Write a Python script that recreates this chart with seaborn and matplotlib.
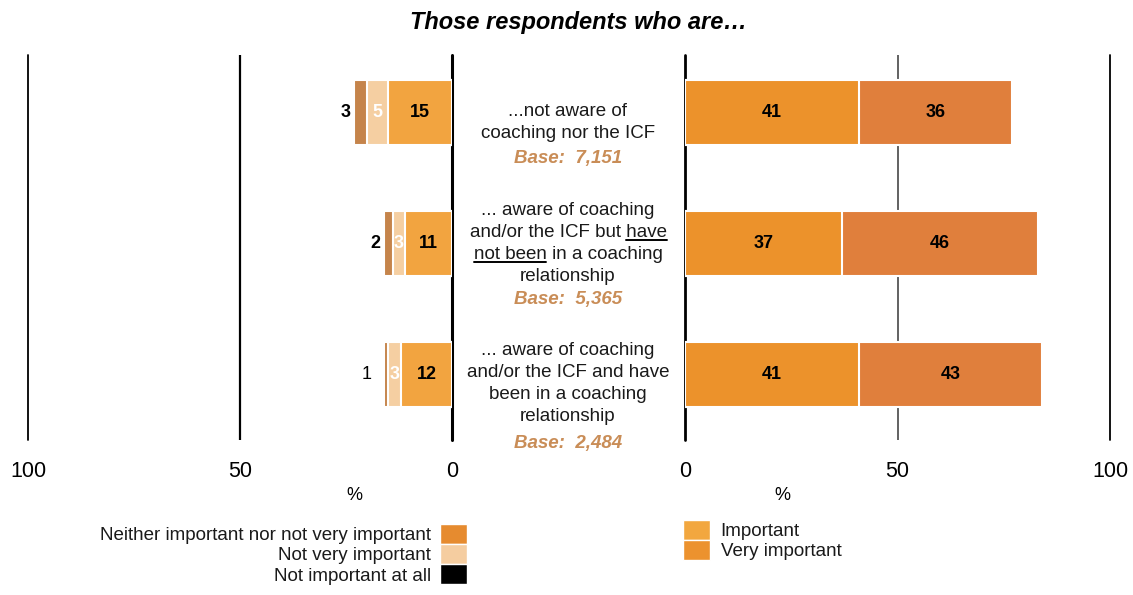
import numpy as np
import pandas as pd
import matplotlib
matplotlib.use('Agg')
import matplotlib.pyplot as plt
from matplotlib.patches import Patch
from matplotlib.lines import Line2D
import seaborn as sns

# data
groups = ['not_aware', 'aware_no_rel', 'aware_rel']
neither = [15, 11, 12]
not_very = [5, 3, 3]
not_at_all = [3, 2, 1]
important = [41, 37, 41]
very_important = [36, 46, 43]

row_lines = [
    ['...not aware of', 'coaching nor the ICF'],
    ['... aware of coaching', 'and/or the ICF but have', 'not been in a coaching', 'relationship'],
    ['... aware of coaching', 'and/or the ICF and have', 'been in a coaching', 'relationship'],
]
bases = ['Base:  7,151', 'Base:  5,365', 'Base:  2,484']
left_ticks = [100, 50, 0]
right_ticks = [0, 50, 100]

df = pd.DataFrame({'group': groups, 'neither': neither, 'not_very': not_very,
                   'not_at_all': not_at_all, 'important': important,
                   'very_important': very_important})
df['l2'] = df['neither'] + df['not_very']
df['l3'] = df['l2'] + df['not_at_all']
df['r2'] = df['important'] + df['very_important']

sns.set_style('white')
plt.rcParams['font.family'] = ['Liberation Sans', 'DejaVu Sans']
plt.rcParams['text.color'] = 'black'
plt.rcParams['xtick.color'] = 'black'

W, H = 1133, 595
fig = plt.figure(figsize=(W / 100, H / 100), dpi=100)
axL = fig.add_axes([28 / W, 155 / H, 424 / W, 385 / H])
axR = fig.add_axes([685 / W, 155 / H, 425 / W, 385 / H])

bar_kw = dict(y='group', orient='h', width=0.5, saturation=1, errorbar=None,
              edgecolor='white', linewidth=1.5, zorder=3)

# left stacked bars (drawn as cumulative overlays)
sns.barplot(data=df, x='l3', color='#C5844B', ax=axL, **bar_kw)
sns.barplot(data=df, x='l2', color='#F5CFA2', ax=axL, **bar_kw)
sns.barplot(data=df, x='neither', color='#F2A440', ax=axL, **bar_kw)

# right stacked bars
sns.barplot(data=df, x='r2', color='#E07F3C', ax=axR, **bar_kw)
sns.barplot(data=df, x='important', color='#EC922B', ax=axR, **bar_kw)

for ax in (axL, axR):
    ax.set_ylim(2.5, -0.44)
    ax.set_yticks([])
    ax.set_xlabel('')
    ax.set_ylabel('')
    sns.despine(ax=ax, left=True, bottom=True)
    ax.tick_params(axis='x', length=0, pad=15, labelsize=15.5, labelcolor='black')

axL.set_xlim(100, 0)
axL.set_xticks(left_ticks, [str(t) for t in left_ticks])
axR.set_xlim(0, 100)
axR.set_xticks(right_ticks, [str(t) for t in right_ticks])

# grid lines
axL.axvline(100, color='black', lw=1.3, zorder=0, clip_on=False)
axL.axvline(50, color='black', lw=1.6, zorder=0)
axL.axvline(0, color='black', lw=2.2, zorder=0, clip_on=False)
axR.axvline(0, color='black', lw=2.0, zorder=0, clip_on=False)
axR.axvline(50, color='#555555', lw=1.3, zorder=0)
axR.axvline(100, color='black', lw=1.3, zorder=0, clip_on=False)

# value labels
for i in range(len(groups)):
    axL.text(neither[i] / 2, i, str(neither[i]), ha='center', va='center',
             fontsize=13, fontweight='bold', color='black', zorder=5)
    axL.text(neither[i] + not_very[i] / 2, i, str(not_very[i]), ha='center',
             va='center', fontsize=13, fontweight='bold', color='white', zorder=5)
    axL.text(df['l3'][i] + 1 + (2 if i == 2 else 0), i, str(not_at_all[i]),
             ha='right', va='center', fontsize=13,
             fontweight='normal' if i == 2 else 'bold', color='black', zorder=5)
    axR.text(important[i] / 2, i, str(important[i]), ha='center', va='center',
             fontsize=13, fontweight='bold', color='black', zorder=5)
    axR.text(important[i] + very_important[i] / 2, i, str(very_important[i]),
             ha='center', va='center', fontsize=13, fontweight='bold',
             color='black', zorder=5)

# "%" axis labels
axL.text(23, -0.145, '%', transform=axL.get_xaxis_transform(), ha='center',
         va='center', fontsize=13)
axR.text(23, -0.145, '%', transform=axR.get_xaxis_transform(), ha='center',
         va='center', fontsize=13)

# title
fig.text(578 / W, 1 - 22 / H, 'Those respondents who are…', ha='center',
         va='center', fontsize=17, fontweight='bold', fontstyle='italic')

# centre labels
cx = 568
line_tops = [110, 209, 349]
base_y = [157, 298, 442]
txt_kw = dict(ha='center', va='baseline', fontsize=13.5, color='#1a1a1a')
line_pos = {}
for i, lines in enumerate(row_lines):
    for j, s in enumerate(lines):
        yb = line_tops[i] + j * 22 + 6
        fig.text(cx / W, 1 - yb / H, s, **txt_kw)
        line_pos[(i, j)] = yb
    fig.text(cx / W, 1 - (base_y[i] + 6) / H, bases[i], ha='center', va='baseline',
             fontsize=13.5, fontweight='bold', fontstyle='italic', color='#C98D57')

# underline "have not been"
fig.canvas.draw()
rend = fig.canvas.get_renderer()


def text_w(s):
    t = fig.text(0, 0, s, **txt_kw)
    w = t.get_window_extent(rend).width
    t.remove()
    return w


for (i, j, word, at_end) in [(1, 1, 'have', True), (1, 2, 'not been', False)]:
    s = row_lines[i][j]
    full = text_w(s)
    left = cx - full / 2
    if at_end:
        x0, x1 = left + full - text_w(word), left + full
    else:
        x0, x1 = left, left + text_w(word)
    yu = H - (line_pos[(i, j)] + 3)
    fig.add_artist(Line2D([x0 / W, x1 / W], [yu / H, yu / H], color='black', lw=1.4))

# legends
leg_kw = dict(frameon=False, fontsize=13.5, handlelength=1.45, handleheight=1.25,
              labelspacing=0, borderpad=0, borderaxespad=0, labelcolor='#1a1a1a')
left_handles = [Patch(facecolor='#E68B2F'), Patch(facecolor='#F5CDA0'),
                Patch(facecolor='black')]
left_labels = ['Neither important nor not very important', 'Not very important',
               'Not important at all']
fig.legend(left_handles, left_labels, loc='upper right', markerfirst=False,
           handletextpad=0.45, bbox_to_anchor=(467 / W, 1 - 524 / H), **leg_kw)
right_handles = [Patch(facecolor='#F2A73F'), Patch(facecolor='#EC922E')]
right_labels = ['Important', 'Very important']
fig.legend(right_handles, right_labels, loc='upper left',
           handletextpad=0.55, bbox_to_anchor=(683 / W, 1 - 520 / H), **leg_kw)

fig.savefig('out.png', dpi=100)
